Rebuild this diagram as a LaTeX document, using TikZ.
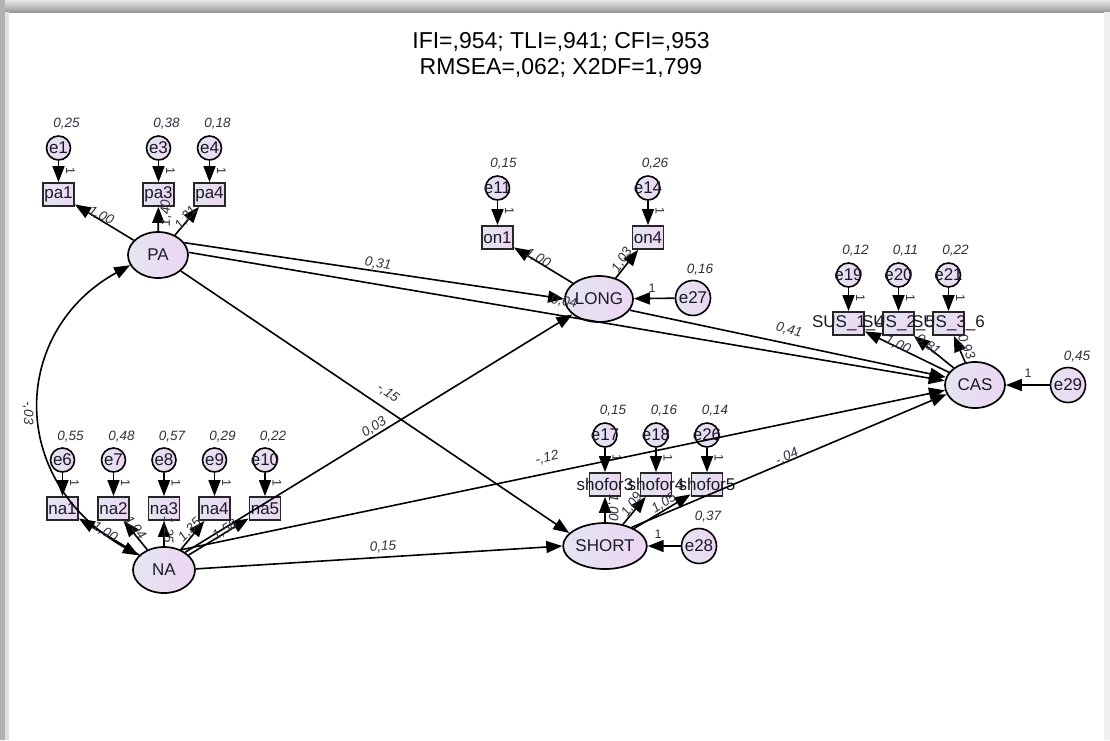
\documentclass[tikz,border=0pt]{standalone}
\usepackage{fontspec}
\setmainfont{Liberation Sans}
\usetikzlibrary{shapes.geometric,arrows.meta}
\definecolor{nodeL}{HTML}{E3E6F1}
\definecolor{nodeR}{HTML}{EDD5F2}
\definecolor{txt}{HTML}{1A1A26}
\definecolor{lbltext}{HTML}{30303F}
\tikzset{
  lat/.style={ellipse, draw=black, line width=1.7pt, minimum width=60pt, minimum height=46pt,
    inner sep=0pt, left color=nodeL, right color=nodeR, font=\fontsize{17}{17}\selectfont, text=txt},
  obs/.style={rectangle, draw=black!85, line width=1.8pt, minimum width=31pt, minimum height=23pt,
    inner sep=0pt, left color=nodeL, right color=nodeR},
  err/.style={circle, draw=black, line width=1.6pt, minimum size=24pt, inner sep=0pt,
    left color=nodeL, right color=nodeR},
  dist/.style={err, minimum size=35pt},
  ntext/.style={font=\fontsize{17}{17}\selectfont, text=txt, inner sep=0pt},
  arr/.style={line width=1.6pt, -{Triangle[length=16pt,width=12pt]}},
  cov/.style={line width=1.6pt, {Triangle[length=16pt,width=12pt]}-{Triangle[length=16pt,width=12pt]}},
  est/.style={font=\itshape\fontsize{13.5}{13.5}\selectfont, text=lbltext, inner sep=0pt},
  one/.style={font=\fontsize{12.5}{12.5}\selectfont, text=lbltext, inner sep=0pt},
  fitline/.style={font=\fontsize{23}{23}\selectfont, text=black, inner sep=0pt},
}
\begin{document}
\begin{tikzpicture}[x=1pt,y=-1pt]
\useasboundingbox (0,0) rectangle (1110,740);
% window frame
\fill[white] (0,0) rectangle (1110,740);
\shade[top color=black!10, bottom color=black!40] (0,0) rectangle (1110,12);
\fill[black!30] (0,0) rectangle (5,740);
\fill[black!12] (5,12) rectangle (9,740);
\fill[black!6] (1104,12) rectangle (1110,740);

% fit indices
\node[fitline] (fit1) at (561,42) {IFI=,954; TLI=,941; CFI=,953};
\node[fitline] (fit2) at (561,68) {RMSEA=,062; X2DF=1,799};

% latent variables
\node[lat] (PA) at (158,255) {PA};
\node[lat, minimum width=62pt] (NA) at (164,570) {NA};
\node[lat, minimum width=58pt] (LONG) at (599,299) {LONG};
\node[lat] (SHORT) at (605,546) {SHORT};
\node[lat] (CAS) at (975,385) {CAS};

% indicators
\node[obs, label={[ntext]center:pa1}] (pa1) at (58.5,194.5) {};
\node[obs, label={[ntext]center:pa3}] (pa3) at (158.5,194.5) {};
\node[obs, label={[ntext]center:pa4}] (pa4) at (209.5,194.5) {};
\node[obs, label={[ntext]center:on1}] (on1) at (497.5,237.5) {};
\node[obs, label={[ntext]center:on4}] (on4) at (648,237.5) {};
\node[obs, label={[ntext]center:SUS\_1\_4}] (sus1) at (848.5,323.5) {};
\node[obs, label={[ntext]center:SUS\_2\_5}] (sus2) at (898.5,323.5) {};
\node[obs, label={[ntext]center:SUS\_3\_6}] (sus3) at (948.5,323.5) {};
\node[obs, label={[ntext]center:shofor3}] (sh3) at (605,484.5) {};
\node[obs, label={[ntext]center:shofor4}] (sh4) at (656,484.5) {};
\node[obs, label={[ntext]center:shofor5}] (sh5) at (707,484.5) {};
\node[obs, label={[ntext]center:na1}] (na1) at (62.5,508.5) {};
\node[obs, label={[ntext]center:na2}] (na2) at (113.5,508.5) {};
\node[obs, label={[ntext]center:na3}] (na3) at (164,508.5) {};
\node[obs, label={[ntext]center:na4}] (na4) at (214.5,508.5) {};
\node[obs, label={[ntext]center:na5}] (na5) at (265,508.5) {};

% error terms
\node[err, label={[ntext]center:e1}] (e1) at (58.5,148) {};
\node[err, label={[ntext]center:e3}] (e3) at (158.5,148) {};
\node[err, label={[ntext]center:e4}] (e4) at (209.5,148) {};
\node[err, label={[ntext]center:e11}] (e11) at (497.5,188) {};
\node[err, label={[ntext]center:e14}] (e14) at (648,188) {};
\node[err, label={[ntext]center:e19}] (e19) at (848.5,275) {};
\node[err, label={[ntext]center:e20}] (e20) at (898.5,275) {};
\node[err, label={[ntext]center:e21}] (e21) at (948.5,275) {};
\node[err, label={[ntext]center:e17}] (e17) at (605,435) {};
\node[err, label={[ntext]center:e18}] (e18) at (656,435) {};
\node[err, label={[ntext]center:e26}] (e26) at (707,435) {};
\node[err, label={[ntext]center:e6}] (e6) at (62.5,460) {};
\node[err, label={[ntext]center:e7}] (e7) at (113.5,460) {};
\node[err, label={[ntext]center:e8}] (e8) at (164,460) {};
\node[err, label={[ntext]center:e9}] (e9) at (214.5,460) {};
\node[err, label={[ntext]center:e10}] (e10) at (265,460) {};
\node[dist, label={[ntext]center:e27}] (e27) at (693,298) {};
\node[dist, label={[ntext]center:e28}] (e28) at (699,546) {};
\node[dist, label={[ntext]center:e29}] (e29) at (1068,385) {};

% error paths (fixed to 1)
\foreach \e/\o in {e1/pa1,e3/pa3,e4/pa4,e11/on1,e14/on4,e19/sus1,e20/sus2,e21/sus3,
                   e17/sh3,e18/sh4,e26/sh5,e6/na1,e7/na2,e8/na3,e9/na4,e10/na5}{
  \draw[arr] (\e) -- (\o);
  \node[one, rotate=-90] at ([shift={(12,23)}]\e) {1};
}
\draw[arr] (e27) -- (LONG);
\draw[arr] (e28) -- (SHORT);
\draw[arr] (e29) -- (CAS);
\node[one] (w27) at (652,288) {1};
\node[one] (w28) at (658,534) {1};
\node[one] (w29) at (1028,373) {1};

% measurement paths
\foreach \o in {pa1,pa3,pa4}{\draw[arr] (PA) -- (\o);}
\foreach \o in {on1,on4}{\draw[arr] (LONG) -- (\o);}
\foreach \o in {sus1,sus2,sus3}{\draw[arr] (CAS) -- (\o);}
\foreach \o in {sh3,sh4,sh5}{\draw[arr] (SHORT) -- (\o);}
\foreach \o in {na1,na2,na3,na4,na5}{\draw[arr] (NA) -- (\o);}

% structural paths
\draw[arr] (PA.25) -- (LONG.180);
\draw[arr] (PA.5) -- (CAS.172);
\draw[arr] (PA.-35) -- (SHORT.160);
\draw[arr] (NA.40) -- (LONG.210);
\draw[arr] (NA.50) -- (CAS.190);
\draw[arr] (NA.2) -- (SHORT.180);
\draw[arr] (LONG.-20) -- (CAS.165);
\draw[arr] (SHORT.35) -- (CAS.198);
\draw[cov] (NA.150) .. controls (5,480) and (12,330) .. (PA.200);

% variances
\node[est] at ([shift={(8,-24)}]e1) {0,25};
\node[est] at ([shift={(8,-24)}]e3) {0,38};
\node[est] at ([shift={(8,-24)}]e4) {0,18};
\node[est] at ([shift={(6,-24)}]e11) {0,15};
\node[est] at ([shift={(7,-24)}]e14) {0,26};
\node[est] at ([shift={(7,-24)}]e19) {0,12};
\node[est] at ([shift={(7,-24)}]e20) {0,11};
\node[est] at ([shift={(7,-24)}]e21) {0,22};
\node[est] at ([shift={(8,-24)}]e17) {0,15};
\node[est] at ([shift={(8,-24)}]e18) {0,16};
\node[est] at ([shift={(8,-24)}]e26) {0,14};
\node[est] at ([shift={(8,-23)}]e6) {0,55};
\node[est] at ([shift={(8,-23)}]e7) {0,48};
\node[est] at ([shift={(8,-23)}]e8) {0,57};
\node[est] at ([shift={(8,-23)}]e9) {0,29};
\node[est] at ([shift={(8,-23)}]e10) {0,22};
\node[est] at ([shift={(7,-28)}]e27) {0,16};
\node[est] at ([shift={(9,-29)}]e28) {0,37};
\node[est] at ([shift={(9,-28)}]e29) {0,45};

% path estimates
\node[est, rotate=-27] at (101,216) {1,00};
\node[est, rotate=90] at (166,213) {1,40};
\node[est, rotate=50] at (186,218) {1,21};
\node[est, rotate=-8] at (378,264) {0,31};
\node[est, rotate=-9.5] at (564,302) {0,04};
\node[est, rotate=-35] at (388,393) {-,15};
\node[est, rotate=33] at (374,427) {0,03};
\node[est, rotate=12] at (547,458) {-,12};
\node[est, rotate=3.6] at (383,547) {0,15};
\node[est, rotate=-13.5] at (789,330) {0,41};
\node[est, rotate=24] at (787,457) {-,04};
\node[est, rotate=-28] at (538,258) {1,00};
\node[est, rotate=58] at (622,260) {1,03};
\node[est, rotate=-25] at (898,345) {1,00};
\node[est, rotate=-35] at (928,345) {0,81};
\node[est, rotate=-68] at (966,347) {0,93};
\node[est, rotate=-90] at (613,508) {1,00};
\node[est, rotate=55] at (632,505) {1,09};
\node[est, rotate=33] at (664,503) {1,05};
\node[est, rotate=-30] at (105,532) {1,00};
\node[est, rotate=-52] at (135,528) {1,04};
\node[est, rotate=-90] at (168,530) {1,25};
\node[est, rotate=45] at (190,530) {1,35};
\node[est, rotate=32] at (225,530) {1,58};
\node[est, rotate=-90] at (28,413) {-,03};
\end{tikzpicture}
\end{document}
